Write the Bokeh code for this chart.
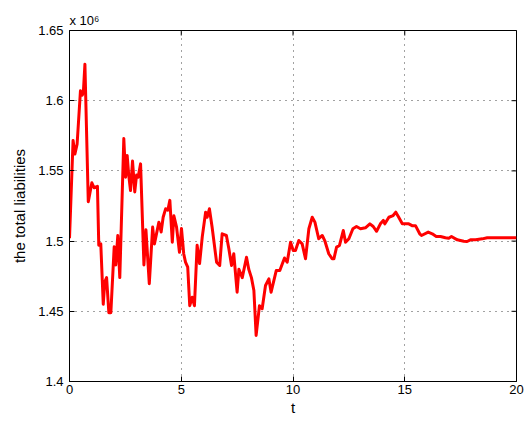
from bokeh.plotting import figure
from bokeh.models import Range1d, FixedTicker, Title
from bokeh.embed import file_html
from bokeh.resources import INLINE
import math

# time axis and total liabilities (in units of 10^6)
t = [0.0, 0.16, 0.24, 0.34, 0.49, 0.57, 0.62, 0.69, 0.84, 1.0, 1.1, 1.25, 1.31, 1.40,
     1.51, 1.58, 1.66, 1.76, 1.85, 2.0, 2.07, 2.16, 2.25, 2.43, 2.51, 2.58, 2.65, 2.73,
     2.82, 2.92, 3.0, 3.07, 3.18, 3.33, 3.42, 3.57, 3.72, 3.80, 4.0, 4.10, 4.19, 4.30,
     4.40, 4.49, 4.60, 4.67, 4.79, 4.92, 5.01, 5.11, 5.19, 5.29, 5.38, 5.49, 5.59, 5.71,
     5.82, 5.94, 6.09, 6.16, 6.26, 6.38, 6.58, 6.72, 6.83, 7.02, 7.13, 7.25, 7.35, 7.50,
     7.58, 7.73, 7.92, 8.02, 8.14, 8.25, 8.35, 8.50, 8.62, 8.77, 8.92, 9.02, 9.25, 9.41,
     9.62, 9.74, 9.89, 10.01, 10.11, 10.26, 10.41, 10.56, 10.71, 10.86, 10.98, 11.15,
     11.31, 11.42, 11.6, 11.75, 11.83, 11.95, 12.08, 12.25, 12.35, 12.5, 12.68, 12.84,
     13.02, 13.24, 13.44, 13.59, 13.74, 13.91, 14.04, 14.11, 14.29, 14.48, 14.60, 14.73,
     14.89, 15.03, 15.18, 15.33, 15.48, 15.67, 15.75, 16.05, 16.23, 16.41, 16.6, 16.82,
     16.97, 17.09, 17.35, 17.64, 17.79, 17.94, 18.17, 18.47, 18.69, 19.06, 20.0]
liabilities = [1.502, 1.5717, 1.562, 1.569, 1.607, 1.604, 1.606, 1.626, 1.528, 1.5415,
               1.538, 1.539, 1.497, 1.498, 1.455, 1.471, 1.474, 1.449, 1.449, 1.496,
               1.483, 1.504, 1.474, 1.573, 1.5455, 1.561, 1.547, 1.536, 1.557, 1.535,
               1.547, 1.5455, 1.555, 1.483, 1.508, 1.4696, 1.510, 1.498, 1.5135, 1.5065,
               1.517, 1.523, 1.522, 1.529, 1.4992, 1.518, 1.510, 1.492, 1.509, 1.491,
               1.485, 1.4814, 1.454, 1.460, 1.454, 1.497, 1.484, 1.503, 1.5206, 1.517,
               1.523, 1.510, 1.485, 1.4826, 1.5052, 1.504, 1.4945, 1.4826, 1.491, 1.4636,
               1.480, 1.474, 1.4885, 1.480, 1.474, 1.4648, 1.4328, 1.454, 1.4518, 1.4684,
               1.4731, 1.4636, 1.479, 1.479, 1.488, 1.485, 1.4992, 1.4933, 1.4933, 1.5004,
               1.498, 1.4874, 1.5088, 1.517, 1.5135, 1.5017, 1.504, 1.5004, 1.491, 1.4874,
               1.4874, 1.4957, 1.4969, 1.5075, 1.4992, 1.5017, 1.5088, 1.5104, 1.5088,
               1.5095, 1.5123, 1.5104, 1.507, 1.5123, 1.5147, 1.5123, 1.517, 1.5182,
               1.5206, 1.517, 1.5123, 1.5123, 1.5123, 1.511, 1.511, 1.5052, 1.504, 1.5064,
               1.5052, 1.5033, 1.5033, 1.5024, 1.5021, 1.5033, 1.5009, 1.4999, 1.4997,
               1.5009, 1.5009, 1.5016, 1.5024, 1.5024, 1.5024]

x_ticks = [0, 5, 10, 15, 20]
y_ticks = [1.4, 1.45, 1.5, 1.55, 1.6, 1.65]
y_tick_labels = ["1.4", "1.45", "1.5", "1.55", "1.6", "1.65"]

X_MIN, X_MAX = 0, 20
Y_MIN, Y_MAX = 1.4, 1.65
FONT = "Liberation Sans"

p = figure(width=527, height=423, output_backend="svg", toolbar_location=None,
           x_range=Range1d(X_MIN, X_MAX), y_range=Range1d(Y_MIN, Y_MAX),
           min_border_left=69, min_border_right=11, min_border_top=30,
           min_border_bottom=42, x_axis_label="t", y_axis_label="the total liabilities")

p.background_fill_color = "white"
p.border_fill_color = "white"
p.outline_line_color = "black"
p.outline_line_width = 1

for ax in (p.xaxis[0], p.yaxis[0]):
    ax.major_tick_in = 5
    ax.major_tick_out = 0
    ax.minor_tick_line_color = None
    ax.axis_line_color = "black"
    ax.major_tick_line_color = "black"
    ax.major_label_text_font = FONT
    ax.major_label_text_font_size = "13px"
    ax.major_label_text_color = "black"
    ax.axis_label_text_font = FONT
    ax.axis_label_text_font_size = "15px"
    ax.axis_label_text_font_style = "normal"
    ax.axis_label_text_color = "black"

p.xaxis[0].ticker = FixedTicker(ticks=x_ticks)
p.xaxis[0].major_label_standoff = 3
p.xaxis[0].axis_label_standoff = 2
p.yaxis[0].ticker = FixedTicker(ticks=y_ticks)
p.yaxis[0].major_label_overrides = {v: s for v, s in zip(y_ticks, y_tick_labels)}
p.yaxis[0].major_label_standoff = 6
p.yaxis[0].axis_label_standoff = 7

for g in (p.xgrid[0], p.ygrid[0]):
    g.grid_line_color = "#444444"
    g.grid_line_dash = "1 5"
    g.grid_line_width = 1
p.xgrid[0].ticker = FixedTicker(ticks=x_ticks)
p.ygrid[0].ticker = FixedTicker(ticks=y_ticks)

# mirrored inward tick marks along the top and right edges (outer half is clipped)
p.scatter(x_ticks, [Y_MAX] * len(x_ticks), marker="dash", angle=math.pi / 2,
          size=10, line_color="black", line_width=1)
p.scatter([X_MAX] * len(y_ticks), y_ticks, marker="dash",
          size=10, line_color="black", line_width=1)

p.line(t, liabilities, line_color="#ff0000", line_width=3, line_join="round")

# axis multiplier shown above the top-left corner
p.add_layout(Title(text="x 10\u2076", align="left", text_font=FONT,
                   text_font_size="13px", text_font_style="normal",
                   text_color="black", standoff=5), "above")

open("out.html", "w").write(file_html(p, INLINE))
